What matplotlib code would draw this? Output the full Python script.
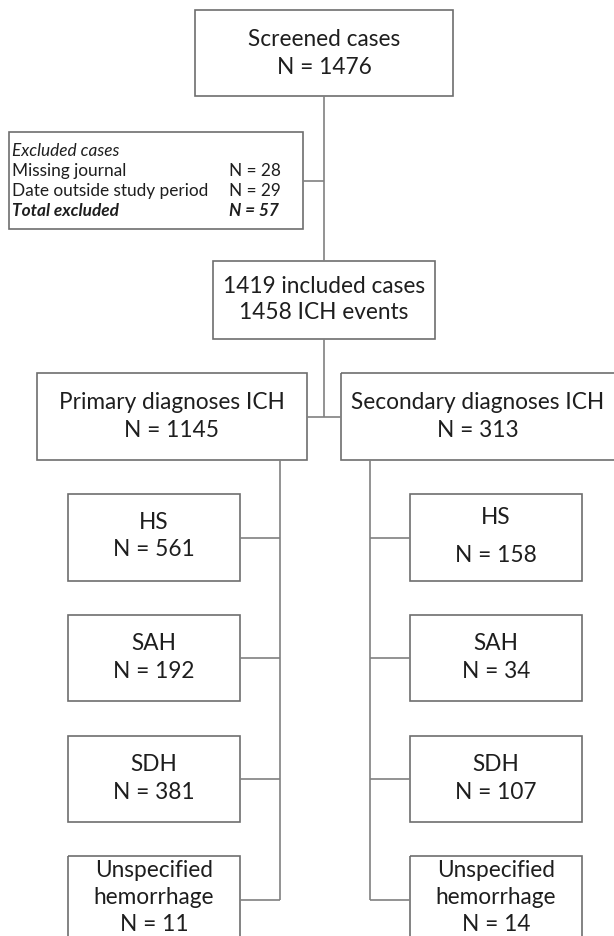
import matplotlib
matplotlib.use("Agg")
import matplotlib.pyplot as plt
from matplotlib.patches import Rectangle

# ---- data ----
screened_n = 1476
excluded_labels = ["Missing journal", "Date outside study period"]
excluded_counts = [28, 29]
total_excluded = 57
included_cases = 1419
ich_events = 1458
group_labels = ["Primary diagnoses ICH", "Secondary diagnoses ICH"]
group_counts = [1145, 313]
subtype_labels = ["HS", "SAH", "SDH", "Unspecified\nhemorrhage"]
primary_counts = [561, 192, 381, 11]
secondary_counts = [158, 34, 107, 14]

FONT = ["Lato", "DejaVu Sans"]
EDGE = "#6e6e6e"
LINE = "#808080"
TXT = "#1e1e1e"
BIG = 16.3
SMALL = 12.4

fig = plt.figure(figsize=(6.14, 9.37), dpi=100)
ax = fig.add_axes([0, 0, 1, 1])
ax.set_xlim(0, 614)
ax.set_ylim(937, 0)
ax.axis("off")


def box(x0, y0, x1, y1):
    ax.add_patch(Rectangle((x0, y0), x1 - x0, y1 - y0, fill=False,
                           edgecolor=EDGE, linewidth=1.2, clip_on=True))


def line(xs, ys):
    ax.plot(xs, ys, color=LINE, linewidth=1.2, solid_capstyle="butt")


def txt(x, y, s, size=BIG, **kw):
    ax.text(x, y, s, ha=kw.pop("ha", "center"), va="center", fontsize=size,
            color=TXT, family=FONT, **kw)


# top box
box(195, 11, 453, 97)
txt(324, 40, "Screened cases")
txt(324, 68, f"N = {screened_n}")

# main vertical
line([324, 324], [97, 262])

# excluded box
box(9, 133, 303, 230)
line([303, 324], [182, 182])
ex_y = [171, 191]
txt(12, 151, "Excluded cases", size=SMALL, ha="left", style="italic")
for lab, n, y in zip(excluded_labels, excluded_counts, ex_y):
    txt(12, y, lab, size=SMALL, ha="left")
    txt(229, y, f"N = {n}", size=SMALL, ha="left")
txt(12, 211, "Total excluded", size=SMALL, ha="left", style="italic", weight="bold")
txt(229, 211, f"N = {total_excluded}", size=SMALL, ha="left", style="italic", weight="bold")

# included box
box(213, 262, 435, 340)
txt(324, 287, f"{included_cases} included cases")
txt(324, 313, f"{ich_events} ICH events")
line([324, 324], [340, 418])

# group boxes
box(37, 374, 307, 461)
box(341, 374, 640, 461)
line([307, 341], [418, 418])
txt(172, 403, group_labels[0])
txt(172, 431, f"N = {group_counts[0]}")
txt(478, 403, group_labels[1])
txt(478, 431, f"N = {group_counts[1]}")

# subtype boxes
tops = [495, 616, 737, 857]
bots = [582, 702, 823, 960]
conn = [539, 659, 780, 901]

line([280, 280], [461, conn[-1]])
line([370, 370], [461, conn[-1]])

for i, lab in enumerate(subtype_labels):
    t, b, c = tops[i], bots[i], conn[i]
    box(68, t, 240, b)
    box(410, t, 582, b)
    line([240, 280], [c, c])
    line([370, 410], [c, c])
    if "\n" in lab:
        l1, l2 = lab.split("\n")
        for cx, n in [(154, primary_counts[i]), (496, secondary_counts[i])]:
            txt(cx, 871, l1)
            txt(cx, 898, l2)
            txt(cx, 925, f"N = {n}")
    else:
        if i == 0:
            txt(154, 523, lab)
            txt(154, 550, f"N = {primary_counts[i]}")
            txt(496, 518, lab)
            txt(496, 556, f"N = {secondary_counts[i]}")
        else:
            ty = t + 28
            txt(154, ty, lab)
            txt(154, ty + 28, f"N = {primary_counts[i]}")
            txt(496, ty, lab)
            txt(496, ty + 28, f"N = {secondary_counts[i]}")

fig.savefig("out.png", dpi=100, facecolor="white")
